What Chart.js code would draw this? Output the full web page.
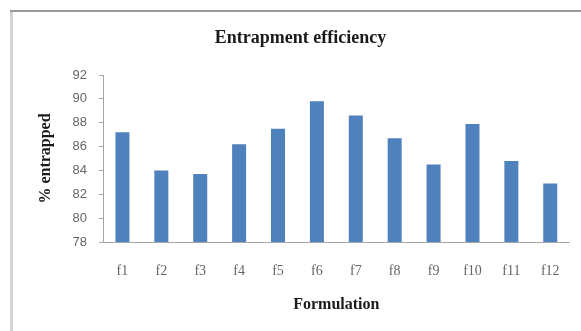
<!DOCTYPE html>
<html>
<head>
<meta charset="utf-8">
<script src="https://cdn.jsdelivr.net/npm/chart.js@4/dist/chart.umd.min.js"></script>
<style>
  html, body { margin: 0; padding: 0; background: #ffffff; }
  #wrap { position: relative; width: 581px; height: 331px; }
</style>
</head>
<body>
<div id="wrap"><canvas id="chart" width="581" height="331"></canvas></div>
<script>
// Formulation codes along the x axis
const categories = ['f1', 'f2', 'f3', 'f4', 'f5', 'f6', 'f7', 'f8', 'f9', 'f10', 'f11', 'f12'];
// Percentage of drug entrapped for each formulation
const entrapped = [87.2, 84.0, 83.7, 86.2, 87.5, 89.8, 88.6, 86.7, 84.5, 87.9, 84.8, 82.9];
// Value axis range and step
const yMin = 78;
const yMax = 92;
const yStep = 2;

const serif = "'Liberation Serif', 'Times New Roman', serif";
const sans = "'Liberation Sans', Arial, sans-serif";

// Light frame around the chart panel
const framePlugin = {
  id: 'panelFrame',
  beforeDraw(chart) {
    const ctx = chart.ctx;
    ctx.save();
    ctx.fillStyle = '#ffffff';
    ctx.fillRect(0, 0, chart.width, chart.height);
    ctx.fillStyle = '#d4d4d4';
    ctx.fillRect(10, 11, 3, chart.height - 11);
    ctx.fillStyle = '#9a9a9a';
    ctx.fillRect(10, 10, chart.width - 10, 2);
    ctx.restore();
  }
};

new Chart(document.getElementById('chart'), {
  type: 'bar',
  data: {
    labels: categories,
    datasets: [{
      label: '% entrapped',
      data: entrapped,
      backgroundColor: '#4f81bd',
      borderWidth: 0,
      barPercentage: 0.36,
      categoryPercentage: 1.0
    }]
  },
  options: {
    responsive: false,
    animation: false,
    devicePixelRatio: 1,
    layout: { padding: { left: 30, right: 10, top: 0, bottom: 0 } },
    plugins: {
      legend: { display: false },
      tooltip: { enabled: false },
      title: {
        display: true,
        text: 'Entrapment efficiency',
        color: '#1a1a1a',
        font: { family: serif, size: 18, weight: 'bold' },
        padding: { top: 28, bottom: 25.4 }
      }
    },
    scales: {
      x: {
        grid: { display: false, drawTicks: false },
        border: { display: true, color: '#a6a6a6', width: 1 },
        ticks: {
          color: '#666666',
          font: { family: serif, size: 14 },
          padding: 21,
          maxRotation: 0,
          autoSkip: false
        },
        title: {
          display: true,
          text: 'Formulation',
          color: '#1a1a1a',
          font: { family: serif, size: 16, weight: 'bold' },
          padding: { top: 0, bottom: 16.4 }
        },
        afterFit(scale) { scale.height = 89; }
      },
      y: {
        min: yMin,
        max: yMax,
        grid: {
          drawOnChartArea: false,
          drawTicks: true,
          tickLength: 4,
          color: '#a6a6a6'
        },
        border: { display: true, color: '#a6a6a6', width: 1 },
        ticks: {
          stepSize: yStep,
          color: '#666666',
          font: { family: sans, size: 13 },
          padding: 12
        },
        title: {
          display: true,
          text: '% entrapped',
          color: '#1a1a1a',
          font: { family: serif, size: 16, weight: 'bold' },
          padding: { top: 6.4, bottom: 0 }
        },
        afterFit(scale) { scale.width = 73; }
      }
    }
  },
  plugins: [framePlugin]
});
</script>
</body>
</html>
